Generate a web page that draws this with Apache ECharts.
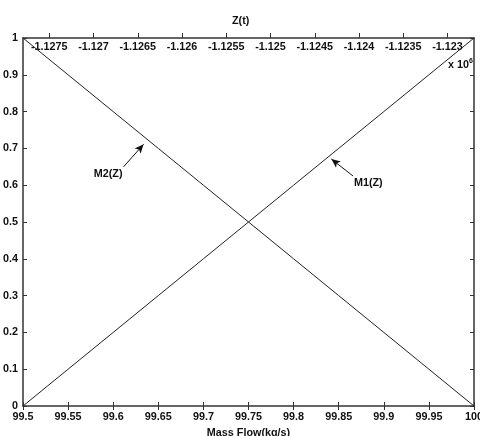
<!DOCTYPE html>
<html>
<head>
<meta charset="utf-8">
<style>
  html, body { margin: 0; padding: 0; background: #fff; }
  #chart { width: 480px; height: 436px; }
</style>
<script src="https://cdn.jsdelivr.net/npm/echarts@6/dist/echarts.min.js"></script>
</head>
<body>
<div id="chart"></div>
<script>
// Mass flow (kg/s) along the bottom axis
const massFlow = [99.5, 99.55, 99.6, 99.65, 99.7, 99.75, 99.8, 99.85, 99.9, 99.95, 100];
// Membership curves
const m1Values = [0, 0.1, 0.2, 0.3, 0.4, 0.5, 0.6, 0.7, 0.8, 0.9, 1];
const m2Values = [1, 0.9, 0.8, 0.7, 0.6, 0.5, 0.4, 0.3, 0.2, 0.1, 0];
// Z(t) tick values on the top axis (units of 10^6)
const zTicks = [-1.1275, -1.127, -1.1265, -1.126, -1.1255, -1.125, -1.1245, -1.124, -1.1235, -1.123];
const zRange = [-1.127797, -1.122701];

const FONT = 'Liberation Sans, Arial, sans-serif';
const INK = '#111';
const AXIS = '#333';

const labelStyle = { fontFamily: FONT, fontWeight: 'bold', fontSize: 10.8, color: INK };

// Annotation callouts: [label position, arrow tail, arrow tip] in data space
const callouts = [
  { text: 'M2(Z)', label: [99.5944, 0.630], tail: [99.6114, 0.650], tip: [99.6337, 0.711] },
  { text: 'M1(Z)', label: [99.8828, 0.606], tail: [99.8659, 0.625], tip: [99.8419, 0.671] }
];

const chart = echarts.init(document.getElementById('chart'), null, { renderer: 'canvas' });

chart.setOption({
  animation: false,
  backgroundColor: '#fff',
  title: {
    text: 'Z(t)',
    left: 227,
    top: 11,
    textStyle: { fontFamily: FONT, fontWeight: 'bold', fontSize: 10.8, color: INK }
  },
  grid: { left: 23, right: 6, top: 38, bottom: 30, containLabel: false, outerBoundsMode: 'none' },
  xAxis: [
    {
      type: 'value', position: 'bottom',
      min: 99.5, max: 100, interval: 0.05,
      name: 'Mass Flow(kg/s)', nameLocation: 'middle', nameGap: 21,
      nameTextStyle: labelStyle,
      axisLine: { show: true, onZero: false, lineStyle: { color: AXIS, width: 1.5 } },
      axisTick: { show: true, inside: true, length: 4, lineStyle: { color: AXIS } },
      axisLabel: Object.assign({ margin: 6, showMaxLabel: true, showMinLabel: true, hideOverlap: false }, labelStyle),
      splitLine: { show: false }
    },
    {
      type: 'value', position: 'top',
      min: zRange[0], max: zRange[1],
      axisLine: { show: true, onZero: false, lineStyle: { color: AXIS, width: 1.5 } },
      axisTick: { show: true, inside: false, length: 5, customValues: zTicks, lineStyle: { color: AXIS } },
      axisLabel: Object.assign({ inside: true, margin: 4, customValues: zTicks,
        formatter: v => String(v) }, labelStyle),
      splitLine: { show: false }
    },
    {
      // mirrored mass-flow ticks along the top edge
      type: 'value', position: 'top',
      min: 99.5, max: 100, interval: 0.05,
      axisLine: { show: false },
      axisTick: { show: true, inside: true, length: 4, lineStyle: { color: AXIS } },
      axisLabel: { show: false },
      splitLine: { show: false }
    }
  ],
  yAxis: [
    {
      type: 'value', position: 'left',
      min: 0, max: 1, interval: 0.1,
      axisLine: { show: true, onZero: false, lineStyle: { color: AXIS, width: 1.5 } },
      axisTick: { show: true, inside: true, length: 4, lineStyle: { color: AXIS } },
      axisLabel: Object.assign({ margin: 5 }, labelStyle),
      splitLine: { show: false }
    },
    {
      type: 'value', position: 'right',
      min: 0, max: 1, interval: 0.1,
      axisLine: { show: true, onZero: false, lineStyle: { color: AXIS, width: 1.5 } },
      axisTick: { show: true, inside: true, length: 4, lineStyle: { color: AXIS } },
      axisLabel: { show: false },
      splitLine: { show: false }
    }
  ],
  graphic: [
    {
      type: 'text', right: 7, top: 58,
      style: {
        text: 'x 10{s|6}',
        font: 'bold 10.8px ' + FONT,
        fill: INK,
        rich: { s: { fontSize: 7, fontWeight: 'bold', fontFamily: FONT, verticalAlign: 'top', padding: [0, 0, 8, 0] } }
      }
    }
  ],
  series: [
    {
      name: 'M1(Z)', type: 'line', xAxisIndex: 0, yAxisIndex: 0,
      data: massFlow.map((x, i) => [x, m1Values[i]]),
      showSymbol: false, symbol: 'none',
      lineStyle: { color: '#222', width: 1 },
      markLine: {
        silent: true, symbol: ['none', 'arrow'], symbolSize: 8,
        lineStyle: { color: '#111', width: 1, type: 'solid' },
        label: { show: false },
        data: callouts.map(c => [
          { coord: c.tail, symbol: 'none' },
          { coord: c.tip, symbol: 'arrow', symbolSize: [6, 9] }
        ])
      },
      markPoint: {
        silent: true, symbol: 'circle', symbolSize: 1,
        itemStyle: { color: 'rgba(0,0,0,0)' },
        label: Object.assign({ show: true, position: 'inside', formatter: p => p.name }, labelStyle),
        data: callouts.map(c => ({ name: c.text, coord: c.label }))
      }
    },
    {
      name: 'M2(Z)', type: 'line', xAxisIndex: 0, yAxisIndex: 0,
      data: massFlow.map((x, i) => [x, m2Values[i]]),
      showSymbol: false, symbol: 'none',
      lineStyle: { color: '#222', width: 1 }
    }
  ]
});
</script>
</body>
</html>
